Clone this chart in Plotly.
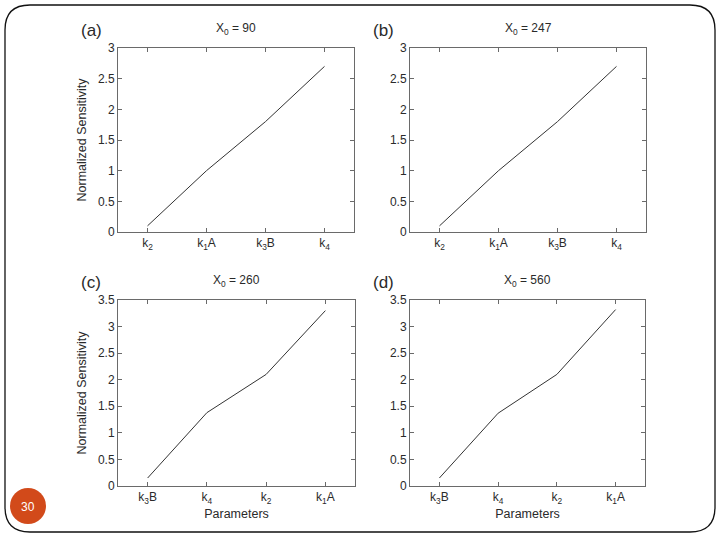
import plotly.graph_objects as go

# ---- data ----
params_ab = ["k<sub>2</sub>", "k<sub>1</sub>A", "k<sub>3</sub>B", "k<sub>4</sub>"]
sens_a = [0.10, 1.00, 1.80, 2.70]
sens_b = [0.10, 1.00, 1.80, 2.70]
params_cd = ["k<sub>3</sub>B", "k<sub>4</sub>", "k<sub>2</sub>", "k<sub>1</sub>A"]
sens_c = [0.15, 1.38, 2.10, 3.30]
sens_d = [0.15, 1.37, 2.10, 3.32]
panel_letters = ["(a)", "(b)", "(c)", "(d)"]
panel_x0 = ["90", "247", "260", "560"]
yticks_ab = [0, 0.5, 1, 1.5, 2, 2.5, 3]
yticks_cd = [0, 0.5, 1, 1.5, 2, 2.5, 3, 3.5]
page_number = "30"

W, H = 720, 540
FONT = "Liberation Sans, Arial, sans-serif"
TXT = "#2a2a2a"
AX = "#6a6a6a"

def px(x):
    return x / W

def py(y):
    return 1 - y / H

# plot boxes in pixels: (left, right, top, bottom)
boxes = [(118, 354, 48, 232), (410, 646, 48, 232),
         (118, 355, 300, 486), (410, 645, 300, 486)]
cats = [params_ab, params_ab, params_cd, params_cd]
vals = [sens_a, sens_b, sens_c, sens_d]
yticks = [yticks_ab, yticks_ab, yticks_cd, yticks_cd]
ymax = [3, 3, 3.5, 3.5]

fig = go.Figure()
annotations = []
for i in range(4):
    sfx = "" if i == 0 else str(i + 1)
    l, r, t, b = boxes[i]
    fig.add_trace(go.Scatter(x=cats[i], y=vals[i], mode="lines",
                             line=dict(color="#333333", width=1),
                             xaxis="x" + sfx, yaxis="y" + sfx,
                             showlegend=False, hoverinfo="skip"))
    xa = dict(domain=[px(l), px(r)], anchor="y" + sfx, type="category",
              categoryorder="array", categoryarray=cats[i], automargin=False,
              range=[-0.5, 3.5], showgrid=False, zeroline=False,
              showline=True, linecolor=AX, linewidth=1, mirror="ticks",
              ticks="inside", ticklen=4, tickcolor=AX,
              tickfont=dict(family=FONT, size=12, color=TXT))
    ya = dict(domain=[py(b), py(t)], anchor="x" + sfx, range=[0, ymax[i]],
              tickvals=yticks[i], ticktext=[f"{v:g}" for v in yticks[i]],
              showgrid=False, zeroline=False, automargin=False,
              showline=True, linecolor=AX, linewidth=1, mirror="ticks",
              ticks="inside", ticklen=4, tickcolor=AX,
              tickfont=dict(family=FONT, size=12, color=TXT))
    if i in (0, 2):
        ya["title"] = dict(text="Normalized Sensitivity", standoff=8,
                           font=dict(family=FONT, size=12.5, color=TXT))
    if i in (2, 3):
        xa["title"] = dict(text="Parameters", standoff=4,
                           font=dict(family=FONT, size=12.5, color=TXT))
    fig.update_layout(**{"xaxis" + sfx: xa, "yaxis" + sfx: ya})
    annotations.append(dict(text=panel_letters[i], x=px(l - 27), y=py(t - 18),
                            xref="paper", yref="paper", showarrow=False,
                            xanchor="center", yanchor="middle",
                            font=dict(family=FONT, size=17, color=TXT)))
    annotations.append(dict(text=f"X<sub>0</sub> = {panel_x0[i]}",
                            x=px((l + r) / 2), y=py(t - 19),
                            xref="paper", yref="paper", showarrow=False,
                            xanchor="center", yanchor="middle",
                            font=dict(family=FONT, size=12, color=TXT)))

# page number
annotations.append(dict(text=page_number, x=px(28), y=py(507), xref="paper",
                        yref="paper", showarrow=False,
                        xanchor="center", yanchor="middle",
                        font=dict(family=FONT, size=12, color="white")))

# rounded slide frame
x0, x1, y0, y1, rr = 5, 715, 5, 532, 25
def P(x, y):
    return f"{px(x):.5f},{py(y):.5f}"
path = (f"M {P(x0 + rr, y0)} L {P(x1 - rr, y0)} Q {P(x1, y0)} {P(x1, y0 + rr)} "
        f"L {P(x1, y1 - rr)} Q {P(x1, y1)} {P(x1 - rr, y1)} "
        f"L {P(x0 + rr, y1)} Q {P(x0, y1)} {P(x0, y1 - rr)} "
        f"L {P(x0, y0 + rr)} Q {P(x0, y0)} {P(x0 + rr, y0)} Z")
shapes = [dict(type="path", path=path, xref="paper", yref="paper",
               line=dict(color="#111111", width=1.3)),
          dict(type="circle", xref="paper", yref="paper",
               x0=px(10), x1=px(46), y0=py(524), y1=py(488),
               fillcolor="#D24A1A", line=dict(color="#D24A1A", width=0))]

fig.update_layout(width=W, height=H, margin=dict(l=0, r=0, t=0, b=0, pad=0),
                  template="none",
                  paper_bgcolor="white", plot_bgcolor="white",
                  annotations=annotations, shapes=shapes, showlegend=False)
fig.write_html("out.html", config={"displayModeBar": False},
               post_script="document.body.style.margin='0';document.body.style.overflow='hidden';")
